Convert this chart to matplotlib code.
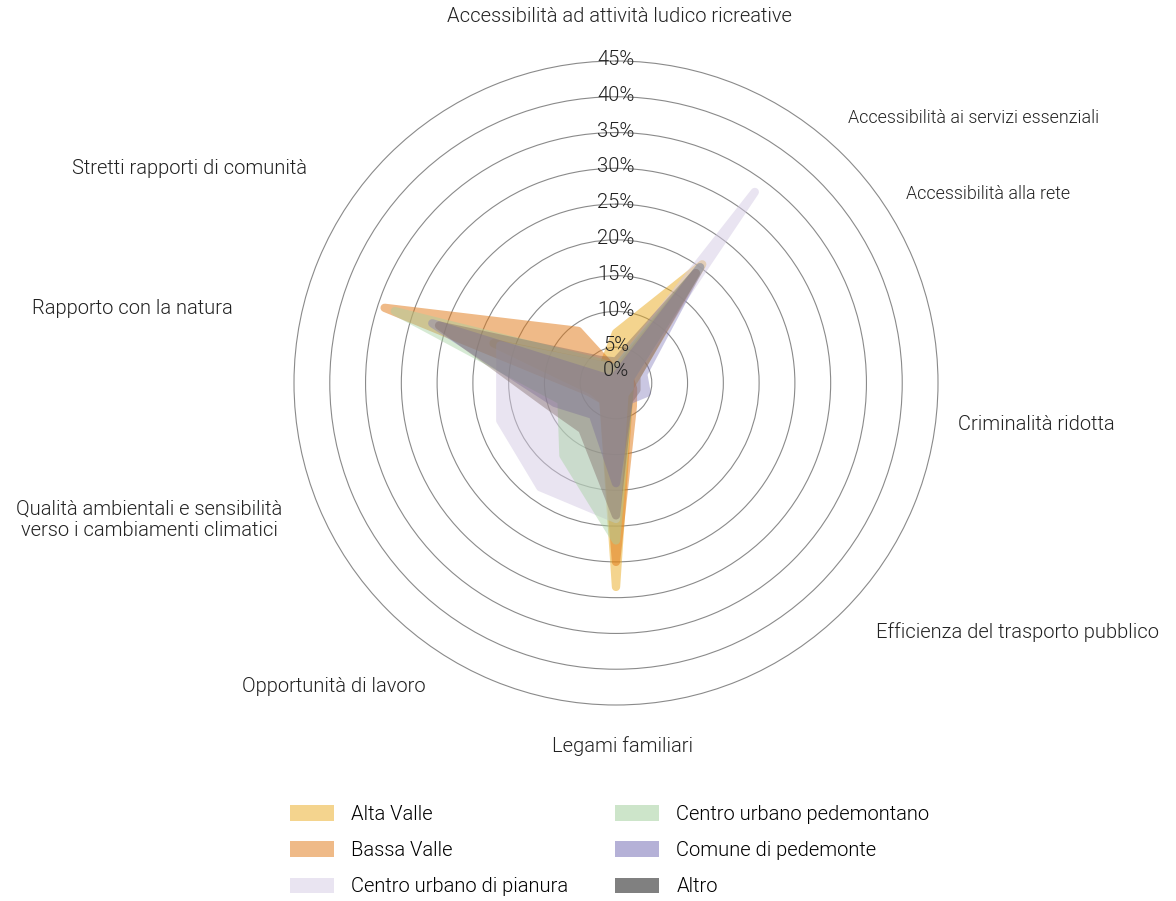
import numpy as np
import matplotlib

matplotlib.use("Agg")
import matplotlib.pyplot as plt
from matplotlib import font_manager as fm
from matplotlib.patches import Patch

W, H = 1176, 901


def pick_font():
    # prefer a thin sans if one is installed
    for name in ["Roboto", "Inter", "Lato", "Open Sans", "Noto Sans"]:
        for f in fm.fontManager.ttflist:
            w = f.weight
            if isinstance(w, str):
                w = {"thin": 100, "extra light": 200, "light": 300}.get(w.lower(), 400)
            if f.name == name and w == 300 and f.style == "normal":
                return name, 300
    return "Liberation Sans", 400


FONT, WEIGHT = pick_font()
plt.rcParams["font.family"] = [FONT, "DejaVu Sans"]
plt.rcParams["font.weight"] = WEIGHT

# axes of the radar, clockwise from the top
categories = [
    "Accessibilità ad attività ludico ricreative",
    "Accessibilità ai servizi essenziali",
    "Accessibilità alla rete",
    "Criminalità ridotta",
    "Efficienza del trasporto pubblico",
    "Legami familiari",
    "Opportunità di lavoro",
    "Qualità ambientali e sensibilità\nverso i cambiamenti climatici",
    "Rapporto con la natura",
    "Stretti rapporti di comunità",
]

# share of answers (%) for each area
alta_valle = [7.0, 20.5, 3.0, 2.0, 3.0, 28.5, 3.0, 3.5, 18.0, 3.0]
bassa_valle = [1.5, 20.0, 2.0, 2.5, 4.0, 25.0, 3.0, 4.0, 34.0, 9.0]
centro_pianura = [2.0, 33.0, 2.0, 2.0, 2.0, 19.0, 18.0, 17.0, 17.0, 3.0]
centro_pedemontano = [2.0, 20.0, 2.0, 2.0, 3.0, 22.0, 12.5, 8.0, 32.5, 3.5]
comune_pedemonte = [1.0, 20.0, 4.0, 4.5, 3.0, 14.0, 5.5, 9.0, 27.0, 0.5]
altro = [3.0, 19.0, 3.0, 3.0, 3.0, 18.5, 8.0, 10.0, 26.0, 4.0]

series_names = ["Alta Valle", "Bassa Valle", "Centro urbano di pianura",
                "Centro urbano pedemontano", "Comune di pedemonte", "Altro"]
series_values = [alta_valle, bassa_valle, centro_pianura,
                 centro_pedemontano, comune_pedemonte, altro]
fill_colors = ["#E9A91D", "#DF7511", "#D3C9E3", "#A5D1A0", "#7C75B8", "#7A6460"]
fill_alpha = [0.5, 0.5, 0.5, 0.45, 0.4, 0.4]
legend_colors = ["#F4D48E", "#EFBA88", "#E9E4F1", "#CDE5CA", "#B5B1D7", "#808080"]

ticks = [0, 5, 10, 15, 20, 25, 30, 35, 40, 45]

# label anchors in pixels: x, y, horizontal alignment, font size
label_layout = [
    (619, 16, "center", 14.5),
    (848, 118, "left", 12.9),
    (906, 194, "left", 12.9),
    (958, 424, "left", 14.5),
    (876, 632, "left", 14.5),
    (622, 746, "center", 14.5),
    (426, 686, "right", 14.5),
    (149, 520, "center", 14.5),
    (233, 309, "right", 14.5),
    (307, 169, "right", 14.5),
]


def fade(alpha):
    # flatten fill + stroke first, then make the whole shape translucent
    def _filter(img, dpi):
        out = img.copy()
        out[..., 3] *= alpha
        return out, 0, 0
    return _filter


fig = plt.figure(figsize=(W / 100, H / 100), dpi=100)

cx, cy, r45 = 616, 383, 322
rmax = 45.3
rad = r45 * rmax / 45
ax = fig.add_axes([(cx - rad) / W, (H - cy - rad) / H, 2 * rad / W, 2 * rad / H],
                  projection="polar")
ax.set_theta_offset(np.pi / 2)
ax.set_theta_direction(-1)
ax.set_ylim(0, rmax)
ax.spines["polar"].set_visible(False)
ax.set_xticks([])
ax.set_yticks(ticks[1:])
ax.set_yticklabels([])
ax.yaxis.grid(True, color="#8a8a8a", lw=0.8)
ax.xaxis.grid(False)

theta = np.linspace(0, 2 * np.pi, len(categories), endpoint=False)
t_closed = np.append(theta, theta[0])

for vals, color, a in zip(series_values, fill_colors, fill_alpha):
    r_closed = np.append(vals, vals[0])
    poly = ax.fill(t_closed, r_closed, facecolor=color, edgecolor=color,
                   lw=6, joinstyle="round", zorder=2)[0]
    poly.set_agg_filter(fade(a))

for t in ticks:
    dy = 9 if t == 0 else 1
    ax.annotate(f"{t}%", xy=(0, t), xytext=(0, dy), textcoords="offset points",
                ha="center", va="center", fontsize=14.5, color="#222222", zorder=5)

for text, (x, y, ha, size) in zip(categories, label_layout):
    fig.text(x / W, 1 - y / H, text, ha=ha, va="center", fontsize=size,
             color="#222222", multialignment="center", linespacing=1.2)

handles = [Patch(facecolor=c, edgecolor="none") for c in legend_colors]
fig.legend(handles, series_names, loc="upper left",
           bbox_to_anchor=(290 / W, 1 - 805 / H), ncol=2, frameon=False,
           fontsize=14.5, handlelength=2.2, handleheight=0.8,
           handletextpad=0.85, labelspacing=0.85, columnspacing=2.3,
           borderpad=0, borderaxespad=0)

fig.savefig("out.png", dpi=100)
